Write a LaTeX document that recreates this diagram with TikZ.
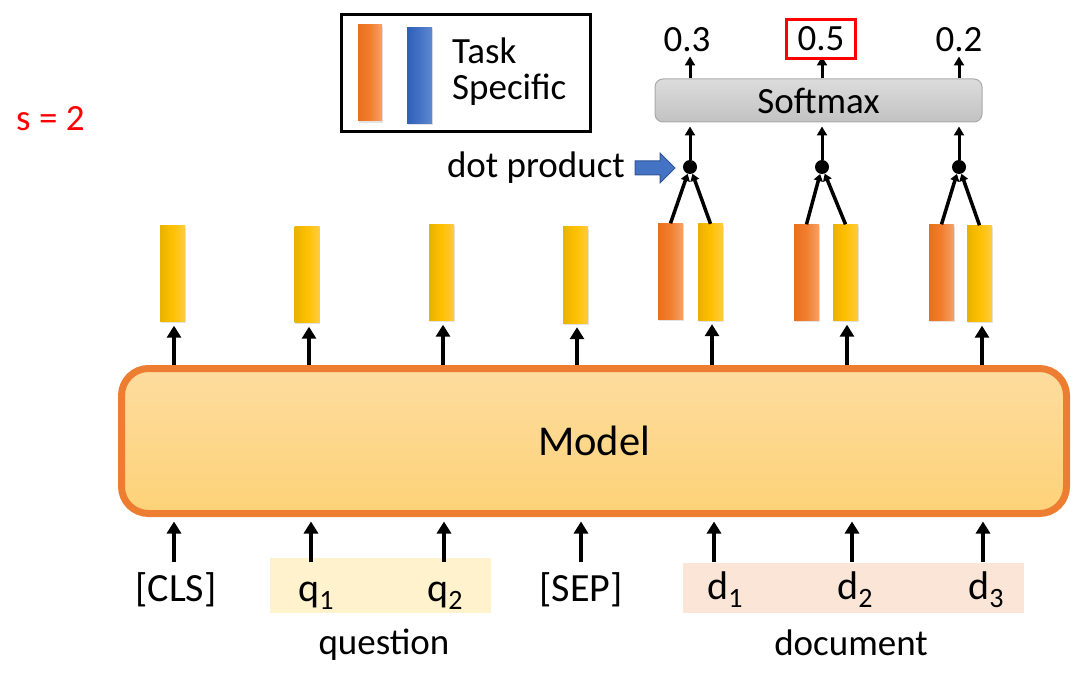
\documentclass[tikz,border=0pt]{standalone}
\usepackage{fontspec}
\setmainfont{Carlito}
\usetikzlibrary{arrows.meta,shadows}
\definecolor{ybL}{HTML}{E8B200}
\definecolor{ybM}{HTML}{FFC000}
\definecolor{ybR}{HTML}{FFCC40}
\definecolor{obL}{HTML}{E86F1E}
\definecolor{obM}{HTML}{F27F2E}
\definecolor{obR}{HTML}{F4A26C}
\definecolor{bbL}{HTML}{2F5FB8}
\definecolor{bbM}{HTML}{4472C4}
\definecolor{bbR}{HTML}{6189D2}
\definecolor{modelBorder}{HTML}{ED7D31}
\definecolor{modelTop}{HTML}{FDDC9E}
\definecolor{modelBot}{HTML}{FDD278}
\definecolor{smTop}{HTML}{DCDCDC}
\definecolor{smBot}{HTML}{C2C2C2}
\definecolor{smBorder}{HTML}{A9A9A9}
\definecolor{qbg}{HTML}{FFF2CC}
\definecolor{dbg}{HTML}{FBE5D6}
\definecolor{blueA}{HTML}{4472C4}
\definecolor{blueD}{HTML}{2F5597}
\newcommand\tsub[1]{\raisebox{-8pt}{\fontsize{28}{28}\selectfont #1}}
\begin{document}
\begin{tikzpicture}[x=1pt,y=-1pt,
  bar/.style={minimum width=25pt, minimum height=96pt, inner sep=0pt,
    drop shadow={shadow xshift=0.8pt, shadow yshift=-1.8pt, opacity=0.22}},
  ybar/.style={bar, left color=ybL, right color=ybR, middle color=ybM},
  obar/.style={bar, left color=obL, right color=obR, middle color=obM},
  bbar/.style={bar, left color=bbL, right color=bbR, middle color=bbM},
  arr/.style={line width=4pt, -{Triangle[width=14pt,length=12pt]}},
  sarr/.style={line width=3pt, -{Triangle[width=10pt,length=9pt]}},
  carr/.style={line width=3.5pt, -{Triangle[width=9pt,length=7pt]}},
  txt/.style={font=\fontsize{37}{37}\selectfont, inner sep=0pt},
  tok/.style={font=\fontsize{40}{40}\selectfont, inner sep=0pt, anchor=base},
  dotn/.style={circle, fill=black, minimum size=14pt, inner sep=0pt},
  model/.style={draw=modelBorder, line width=7pt, rounded corners=27pt,
    top color=modelTop, bottom color=modelBot, minimum width=945pt,
    minimum height=145pt, font=\fontsize{42.5}{42.5}\selectfont},
  softmax/.style={draw=smBorder, line width=1pt, rounded corners=8pt,
    top color=smTop, bottom color=smBot, minimum width=327pt,
    minimum height=43pt, font=\fontsize{37}{37}\selectfont}
]
\useasboundingbox (0,0) rectangle (1087,687);

% red label
\node[txt, text=red, anchor=base west] (s) at (16,131) {s = 2};

% legend
\node[draw, line width=3.3pt, minimum width=249pt, minimum height=117pt] (leg) at (466,73) {};
\node[obar, minimum width=24pt] (lo) at (370,73) {};
\node[bbar] (lb) at (419.5,75.5) {};
\node[txt, anchor=base west] (task) at (452,64) {Task};
\node[txt, anchor=base west] (spec) at (452,100) {Specific};

% model
\node[model] (model) at (594,441) {Model};

% token backgrounds
\node[fill=qbg, minimum width=221pt, minimum height=55pt, inner sep=0pt] (qbox) at (380.5,585.5) {};
\node[fill=dbg, minimum width=341pt, minimum height=50pt, inner sep=0pt] (dbox) at (853.5,588) {};

% tokens
\node[tok] (cls) at (176,601) {[CLS]};
\node[tok] (q1) at (316,601) {q\tsub{1}};
\node[tok] (q2) at (445,601) {q\tsub{2}};
\node[tok] (sep) at (581,601) {[SEP]};
\node[tok] (d1) at (725,599) {d\tsub{1}};
\node[tok] (d2) at (855,599) {d\tsub{2}};
\node[tok] (d3) at (986,599) {d\tsub{3}};
\node[txt, anchor=base] (question) at (384,654) {question};
\node[txt, anchor=base] (document) at (851,655) {document};

% input arrow tails
\coordinate (t1) at (174,562);
\coordinate (t2) at (311,562);
\coordinate (t3) at (444,562);
\coordinate (t4) at (581,562);
\coordinate (t5) at (714,562);
\coordinate (t6) at (852,562);
\coordinate (t7) at (983,562);
\foreach \i in {1,...,7}{
  \draw[arr, shorten >=4.5pt] (t\i) -- (t\i |- model.south);
}

% output bars
\node[ybar] (y1) at (172.5,273.5) {};
\node[ybar] (y2) at (307,274.5) {};
\node[ybar] (y3) at (441.5,272.5) {};
\node[ybar] (y4) at (575.5,275) {};
\node[ybar] (y5) at (710.5,272) {};
\node[ybar] (y6) at (845.5,272.5) {};
\node[ybar] (y7) at (979.5,273.5) {};
\node[obar] (o5) at (670.5,271.5) {};
\node[obar] (o6) at (806.5,272.5) {};
\node[obar] (o7) at (941.5,272.5) {};

\foreach \i/\x in {1/174,2/309,3/443,4/577,5/712,6/847,7/982}{
  \draw[arr] (model.north -| \x,0) -- ([yshift=-4pt]y\i.south -| \x,0);
}

% dot products
\node[dotn] (p5) at (690,167) {};
\node[dotn] (p6) at (822,167) {};
\node[dotn] (p7) at (959,167) {};
\foreach \i in {5,6,7}{
  \draw[carr] (o\i.north) -- (p\i);
  \draw[carr] (y\i.north) -- (p\i);
}

% softmax
\node[softmax] (sm) at (818.5,100.5) {Softmax};
\foreach \i in {5,6,7}{
  \draw[sarr, shorten >=4pt] (p\i) -- (p\i |- sm.south);
  \draw[sarr] (sm.north -| p\i) -- ++(0,-22);
}

% probabilities
\node[txt] (n5) at (687,40) {0.3};
\node[txt, draw=red, line width=3pt, minimum width=69pt, minimum height=39pt] (n6) at (821,39) {0.5};
\node[txt] (n7) at (959,40) {0.2};

% dot product label and pointer
\node[txt, anchor=base] (dp) at (536,178) {dot product};
\draw[fill=blueA, draw=blueD, line width=1pt] (635,161) -- (660,161) -- (660,153) -- (675,168) -- (660,183) -- (660,175) -- (635,175) -- cycle;
\end{tikzpicture}
\end{document}
